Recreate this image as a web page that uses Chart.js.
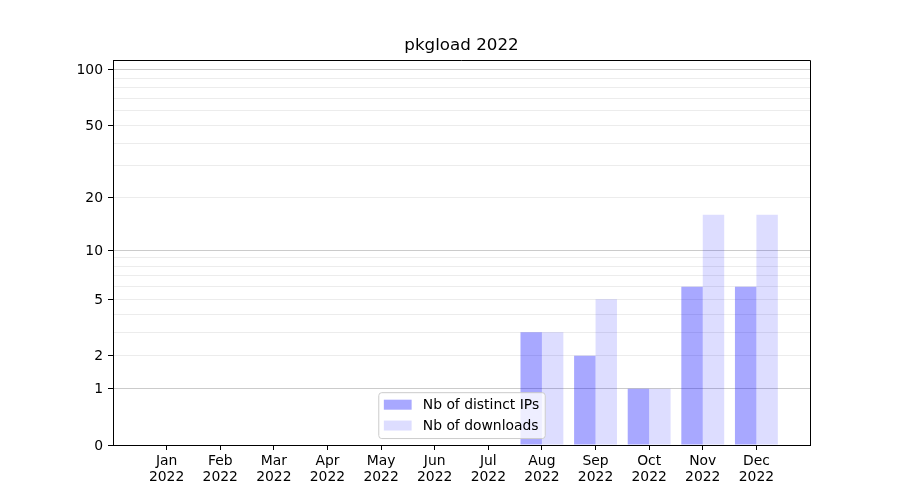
<!DOCTYPE html>
<html>
<head>
<meta charset="utf-8">
<script src="https://cdn.jsdelivr.net/npm/chart.js@4.4.1/dist/chart.umd.min.js"></script>
<style>
  html, body { margin: 0; padding: 0; background: #fff; }
  canvas { display: block; }
</style>
</head>
<body>
<canvas id="chart" width="900" height="500"></canvas>
<script>
// data
const months = ["Jan", "Feb", "Mar", "Apr", "May", "Jun", "Jul", "Aug", "Sep", "Oct", "Nov", "Dec"];
const year = "2022";
const distinctIPs = [0, 0, 0, 0, 0, 0, 0, 3, 2, 1, 6, 6];
const downloads = [0, 0, 0, 0, 0, 0, 0, 3, 5, 1, 16, 16];
const yTickLabels = [0, 1, 2, 5, 10, 20, 50, 100];
const yMajorGrid = [1, 10, 100];
const yMinorGrid = [2, 3, 4, 5, 6, 7, 8, 9, 20, 30, 40, 50, 60, 70, 80, 90];
const yMax = 113;
const titleText = "pkgload 2022";

// y scale: log10(1 + v)
const fwd = v => Math.log10(1 + v);
const inv = t => Math.pow(10, t) - 1;

class Log1pScale extends Chart.LinearScale {
    static id = "log1p";
    static defaults = Chart.LinearScale.defaults;
    buildTicks() {
        const vals = Array.from(new Set([...yTickLabels, ...yMajorGrid, ...yMinorGrid])).sort((a, b) => a - b);
        return vals.filter(v => v >= this.min && v <= this.max).map(v => ({ value: v }));
    }
    configure() {
        super.configure();
        this._tStart = fwd(this.min);
        this._tRange = fwd(this.max) - fwd(this.min);
    }
    getPixelForValue(value) {
        if (value === null || value === undefined) return NaN;
        return this.getPixelForDecimal((fwd(value) - this._tStart) / this._tRange);
    }
    getValueForPixel(pixel) {
        return inv(this.getDecimalForPixel(pixel) * this._tRange + this._tStart);
    }
}
Chart.register(Log1pScale);

const font = { family: "DejaVu Sans", size: 13.9 };

// frame on top and right, title centred over the axes
const framePlugin = {
    id: "frame",
    afterDatasetsDraw(chart) {
        const { ctx, chartArea: a } = chart;
        ctx.save();
        ctx.strokeStyle = "#000";
        ctx.lineWidth = 1;
        ctx.beginPath();
        ctx.moveTo(a.left, a.top + 0.5);
        ctx.lineTo(a.right + 0.5, a.top + 0.5);
        ctx.lineTo(a.right + 0.5, a.bottom);
        ctx.stroke();
        ctx.font = "16.7px 'DejaVu Sans'";
        ctx.fillStyle = "#000";
        ctx.textAlign = "center";
        ctx.textBaseline = "middle";
        ctx.fillText(titleText, (a.left + a.right) / 2, a.top - 14);
        ctx.restore();
    }
};

// matplotlib style legend, lower center inside the axes
const legendPlugin = {
    id: "mplLegend",
    afterDraw(chart) {
        const { ctx, chartArea: a } = chart;
        const fs = font.size;
        const pad = 0.4 * fs, handle = 2 * fs, gap = 0.8 * fs, spacing = 0.5 * fs;
        ctx.save();
        ctx.font = fs + "px 'DejaVu Sans'";
        const labels = chart.data.datasets.map(d => d.label);
        const textW = Math.max(...labels.map(l => ctx.measureText(l).width));
        const w = pad * 2 + handle + gap + textW;
        const h = pad * 2 + labels.length * fs + (labels.length - 1) * spacing;
        const x = (a.left + a.right) / 2 - w / 2;
        const y = a.bottom - 0.5 * fs - h;
        ctx.fillStyle = "rgba(255,255,255,0.8)";
        ctx.strokeStyle = "#cccccc";
        ctx.lineWidth = 1;
        ctx.beginPath();
        ctx.roundRect(x + 0.5, y + 0.5, w, h, 3);
        ctx.fill();
        ctx.stroke();
        chart.data.datasets.forEach((d, i) => {
            const cy = y + pad + fs / 2 + i * (fs + spacing);
            ctx.fillStyle = d.backgroundColor;
            ctx.fillRect(x + pad, cy - 5, handle, 10);
            ctx.fillStyle = "#000";
            ctx.textBaseline = "middle";
            ctx.fillText(d.label, x + pad + handle + gap, cy + 1);
        });
        ctx.restore();
    }
};

new Chart(document.getElementById("chart"), {
    type: "bar",
    data: {
        datasets: [{
            label: "Nb of distinct IPs",
            data: distinctIPs.map((v, i) => ({ x: i, y: v })),
            backgroundColor: "rgba(0,0,255,0.34)",
            borderWidth: 0,
            categoryPercentage: 0.8,
            barPercentage: 1.0
        }, {
            label: "Nb of downloads",
            data: downloads.map((v, i) => ({ x: i, y: v })),
            backgroundColor: "rgba(0,0,255,0.135)",
            borderWidth: 0,
            categoryPercentage: 0.8,
            barPercentage: 1.0
        }]
    },
    options: {
        responsive: false,
        animation: false,
        devicePixelRatio: 1,
        layout: {
            padding: { left: 0, right: 90, top: 60, bottom: 0 }
        },
        plugins: {
            legend: { display: false },
            tooltip: { enabled: false },
            title: { display: false }
        },
        scales: {
            x: {
                type: "linear",
                min: -1,
                max: 12,
                offset: false,
                afterBuildTicks: s => {
                    s.ticks = months.map((m, i) => ({ value: i }));
                },
                afterFit: s => { s.height = 55; },
                grid: {
                    offset: false,
                    drawOnChartArea: false,
                    drawTicks: true,
                    tickLength: 5,
                    tickColor: "#000"
                },
                border: { color: "#000", width: 1 },
                ticks: {
                    color: "#000",
                    font: { ...font, lineHeight: 1.17 },
                    padding: 3,
                    maxRotation: 0,
                    autoSkip: false,
                    callback: v => [months[v], year]
                }
            },
            y: {
                type: "log1p",
                min: 0,
                max: yMax,
                afterFit: s => { s.width = 113; },
                grid: {
                    drawTicks: true,
                    tickLength: 5,
                    color: c => {
                        const v = c.tick ? c.tick.value : null;
                        if (yMajorGrid.includes(v)) return "#cbcbcb";
                        if (yMinorGrid.includes(v)) return "#ececec";
                        return "rgba(0,0,0,0)";
                    },
                    tickColor: c => (c.tick && yTickLabels.includes(c.tick.value)) ? "#000" : "rgba(0,0,0,0)"
                },
                border: { color: "#000", width: 1 },
                ticks: {
                    color: "#000",
                    font: font,
                    padding: 5,
                    labelOffset: 1,
                    autoSkip: false,
                    callback: v => yTickLabels.includes(v) ? String(v) : ""
                }
            }
        }
    },
    plugins: [framePlugin, legendPlugin]
});
</script>
</body>
</html>
